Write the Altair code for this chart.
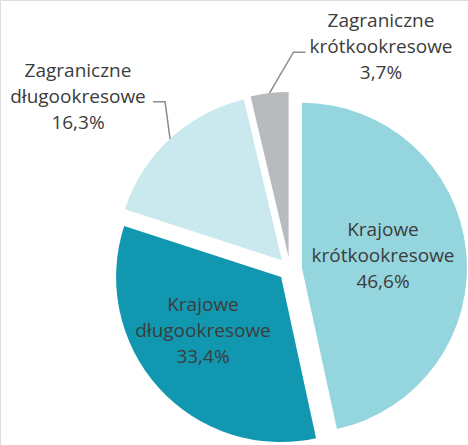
import math
import altair as alt
import pandas as pd

# ---- data ----
line1 = ["Krajowe", "Krajowe", "Zagraniczne", "Zagraniczne"]
line2 = ["krótkookresowe", "długookresowe", "długookresowe", "krótkookresowe"]
shares = [46.6, 33.4, 16.3, 3.7]

# ---- style / layout ----
colors = ["#95d6de", "#1198b0", "#c9e9ee", "#b7bbbe"]
CX, CY, R, EXPLODE = 290, 269, 165, 12
label_x = [383, 203, 78, 381]
label_y = [230, 305, 71, 21]   # centre of the first text line
FONT = "Open Sans"
TEXT_COLOR = "#3c3c3c"
# leader lines for the outside labels: elbow offset from arc edge, then horizontal run
leader_elbow = {2: (-5, -37, -12), 3: (24, -41, 12)}

names = [f"{a} {b}" for a, b in zip(line1, line2)]
df = pd.DataFrame({
    "order": list(range(len(shares))),
    "name": names,
    "l1": line1,
    "l2": line2,
    "share": shares,
    "lx": label_x,
    "ly": label_y,
})

total = sum(shares)
ang_scale = alt.Scale(domain=[0, total], range=[0, 2 * math.pi])

arcs = alt.Chart(df).transform_window(
    cum="sum(share)", sort=[alt.SortField("order")]
).transform_calculate(
    a0="datum.cum - datum.share",
    mid=f"(datum.cum - datum.share/2) / {total} * 2 * PI",
    cx=f"{CX} + {EXPLODE} * sin(datum.mid)",
    cy=f"{CY} - {EXPLODE} * cos(datum.mid)",
).mark_arc(outerRadius=R, strokeWidth=0).encode(
    theta=alt.Theta("a0:Q", scale=ang_scale),
    theta2="cum:Q",
    x=alt.X("cx:Q", scale=None),
    y=alt.Y("cy:Q", scale=None),
    color=alt.Color("name:N", scale=alt.Scale(domain=names, range=colors), legend=None),
)

labels = alt.Chart(df).transform_calculate(
    pct="replace(format(datum.share, '.1f'), '.', ',') + '%'",
    lines="[datum.l1, datum.l2, datum.pct]",
).mark_text(
    font=FONT, fontSize=19, color=TEXT_COLOR, lineHeight=26,
    align="center", baseline="middle",
).encode(
    x=alt.X("lx:Q", scale=None),
    y=alt.Y("ly:Q", scale=None),
    text="lines:N",
)

# leader lines, anchored on the outer edge of each exploded slice
rows = []
cum = 0
for i, s in enumerate(shares):
    mid = (cum + s / 2) / total * 2 * math.pi
    cum += s
    if i in leader_elbow:
        ex, ey, run = leader_elbow[i]
        sx = CX + (EXPLODE + R) * math.sin(mid)
        sy = CY - (EXPLODE + R) * math.cos(mid)
        pts = [(sx, sy), (sx + ex, sy + ey), (sx + ex + run, sy + ey)]
        for k, (px, py) in enumerate(pts):
            rows.append({"slice": names[i], "k": k, "px": px, "py": py})
leader_df = pd.DataFrame(rows)

leaders = alt.Chart(leader_df).mark_line(color="#8c8c8c", strokeWidth=1.5).encode(
    x=alt.X("px:Q", scale=None),
    y=alt.Y("py:Q", scale=None),
    detail="slice:N",
    order="k:Q",
)

chart = alt.layer(arcs, leaders, labels).properties(
    width=468, height=445, padding=0,
    autosize=alt.AutoSizeParams(type="none"),
).configure_view(stroke=None).configure(background="white")

chart.save("out.html", embed_options={"renderer": "svg", "actions": False})
